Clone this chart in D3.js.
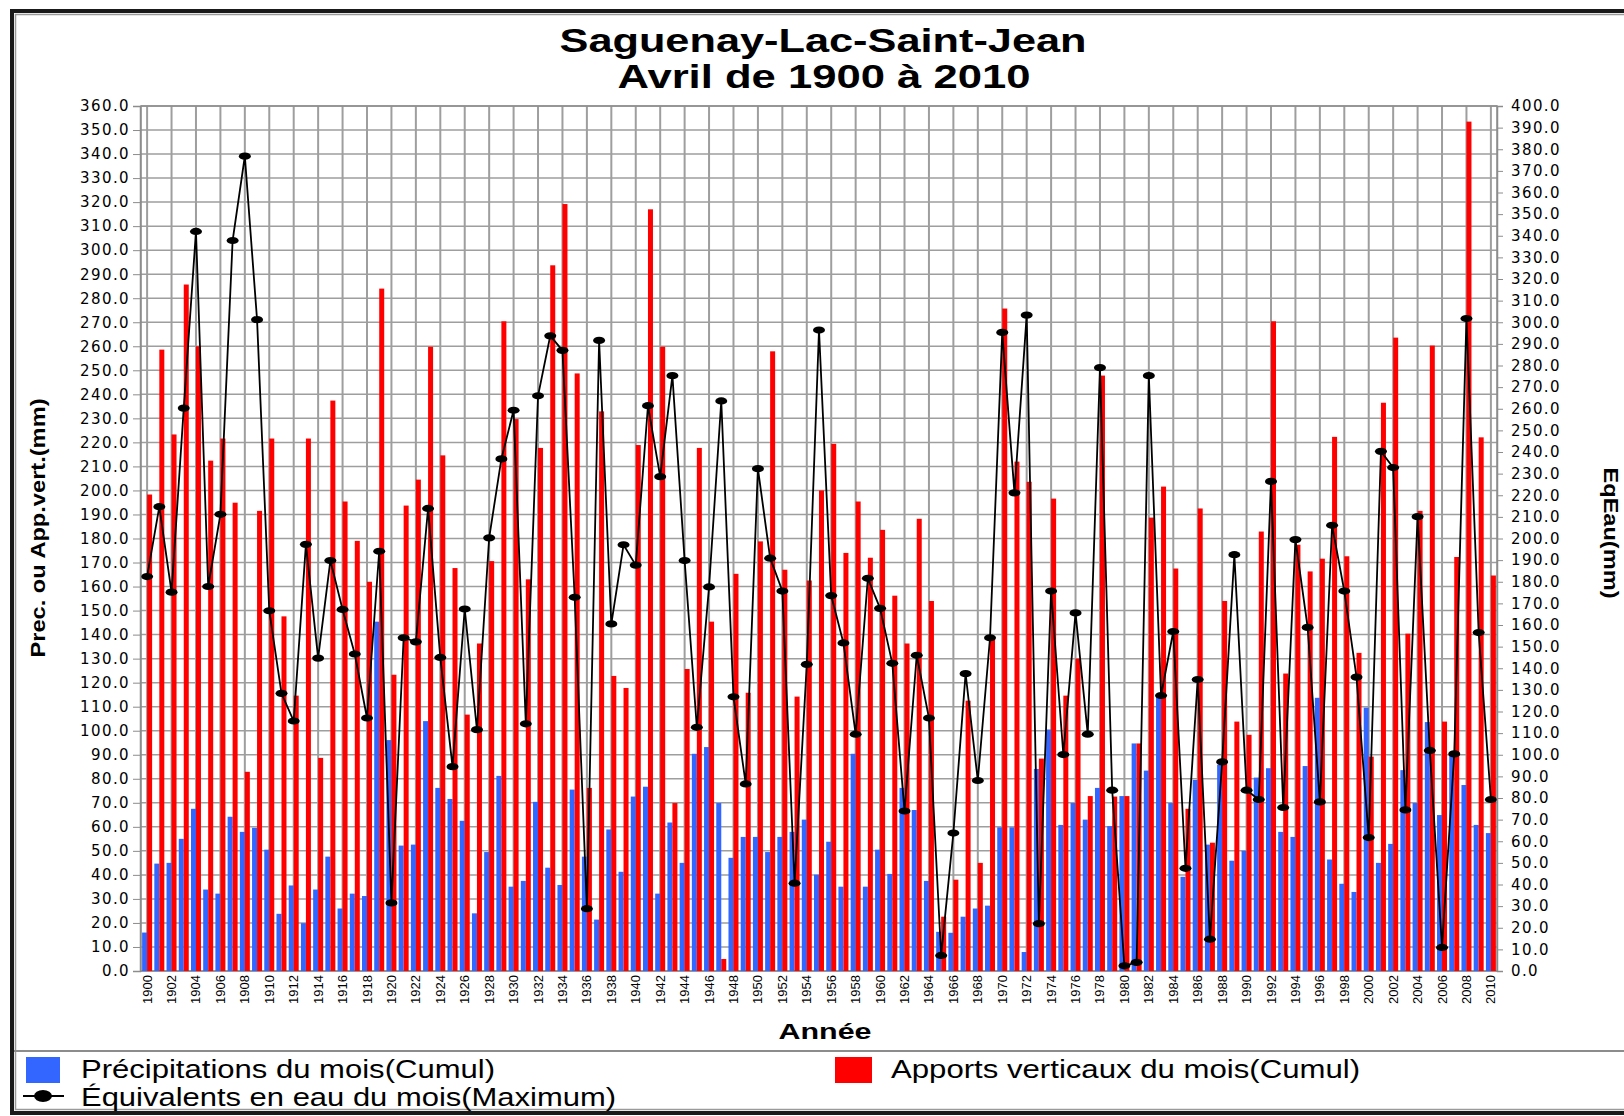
<!DOCTYPE html>
<html>
<head>
<meta charset="utf-8">
<script src="https://cdn.jsdelivr.net/npm/d3@7"></script>
<style>
  body { margin: 0; background: #fff; }
  svg { display: block; }
</style>
</head>
<body>
<svg id="chart" width="1624" height="1116"></svg>
<script>
// years 1900..2010
const years = d3.range(1900, 2011);

// Précipitations du mois (Cumul) - left axis
const precip = [
  16, 44.7, 45, 55, 67.5, 33.9, 32.2, 64.2, 57.9, 59.6,
  50.5, 23.8, 35.6, 19.9, 33.9, 47.6, 26, 32.2, 31.2, 145.4,
  96.1, 52.2, 52.6, 104, 76.2, 71.6, 62.5, 24, 49.5, 81.2,
  35.1, 37.5, 70.4, 43, 35.8, 75.5, 47.6, 21.4, 58.9, 41.3,
  72.6, 76.7, 32.2, 61.8, 45, 90.4, 93.2, 69.9, 47.1, 55.8,
  55.8, 49.5, 55.8, 57.9, 63, 40.1, 53.8, 35.1, 90.4, 35.1,
  50.5, 40.4, 76.2, 67, 37.5, 16.3, 15.9, 22.6, 26, 27.2,
  59.8, 59.8, 7.9, 84.1, 100.5, 60.8, 69.9, 63, 76.2, 60.3,
  72.8, 94.7, 83.4, 114.6, 69.9, 39.2, 79.5, 52.6, 85.8, 45.9,
  50, 80.5, 84.4, 57.9, 55.8, 85.3, 113.7, 46.4, 36.3, 32.9,
  109.6, 45, 52.9, 83.6, 69.9, 103.6, 64.9, 90.1, 77.4, 60.8,
  57.4
];

// Apports verticaux du mois (Cumul) - left axis
const apports = [
  198.3, 258.6, 223.3, 285.7, 260, 212.4, 221.6, 194.9, 82.9, 191.5,
  221.6, 147.6, 114.6, 221.6, 88.7, 237.4, 195.4, 179, 162, 284,
  123.3, 193.7, 204.5, 259.8, 214.6, 167.7, 106.7, 136.3, 170.6, 270.4,
  229.7, 163, 217.7, 293.7, 319.2, 248.7, 76.2, 232.9, 122.8, 117.8,
  218.9, 317, 259.8, 69.9, 125.7, 217.7, 145.4, 5, 165.3, 115.8,
  178.8, 257.9, 167, 114.2, 162.5, 200, 219.4, 174, 195.4, 172,
  183.6, 156.2, 136.3, 188.2, 154, 22.6, 38, 112.5, 45, 138,
  275.7, 212, 203.6, 88.4, 196.6, 114.6, 130, 72.8, 247.8, 72.6,
  72.8, 94.7, 188.7, 201.6, 167.5, 67.5, 192.5, 53.4, 154, 103.8,
  98.3, 182.9, 270.4, 123.8, 177.4, 166.3, 171.6, 222.3, 172.6, 132.4,
  89.2, 236.5, 263.6, 140.4, 191.5, 260.3, 103.8, 172.3, 353.5, 222.1,
  164.6
];

// Équivalents en eau du mois (Maximum) - right axis
const eqEau = [
  182.4, 214.7, 175.2, 260.3, 342, 177.8, 211.2, 337.8, 376.8, 301.2,
  166.6, 128.4, 115.6, 197.3, 144.7, 189.8, 167.2, 146.6, 117, 194.1,
  31.5, 154.1, 152.2, 213.9, 145, 94.5, 167.4, 111.6, 200.3, 236.8,
  259.3, 114.3, 266, 293.7, 287, 172.8, 28.8, 291.6, 160.5, 197.1,
  187.7, 261.4, 228.6, 275.3, 189.8, 112.7, 177.6, 263.6, 126.8, 86.5,
  232.3, 190.9, 175.7, 40.6, 141.8, 296.4, 173.6, 151.7, 109.5, 181.6,
  167.7, 142.3, 74, 146, 117, 7.2, 63.8, 137.5, 88.1, 154.1,
  295.3, 221.1, 303.3, 21.9, 175.7, 100.1, 165.6, 109.5, 279, 83.6,
  2.4, 4, 275.3, 127.4, 157, 47.5, 134.8, 14.7, 96.7, 192.5,
  83.6, 79.3, 226.4, 75.6, 199.5, 158.9, 78.2, 206.1, 175.7, 135.9,
  61.7, 240.3, 232.8, 74.5, 210.1, 102, 10.9, 100.4, 301.7, 156.5,
  79.3
];

const leftTicks = d3.range(0, 361, 10);
const rightTicks = d3.range(0, 401, 10);
const yearTicks = years.filter(y => y % 2 === 0);

const svg = d3.select('#chart');

const plot = {left: 141, right: 1497, top: 106, bottom: 971};

const x = d3.scaleBand()
  .domain(years)
  .range([plot.left, plot.right])
  .padding(0);
const yL = d3.scaleLinear().domain([0, 360]).range([plot.bottom, plot.top]);
const yR = d3.scaleLinear().domain([0, 400]).range([plot.bottom, plot.top]);
const cx = (d) => x(d) + x.bandwidth() / 2;
const barW = 5;

svg.append('rect')
  .attr('width', 1624).attr('height', 1116)
  .attr('fill', '#fff');

// frame
svg.append('rect')
  .attr('x', 12).attr('y', 11)
  .attr('width', 1640).attr('height', 1102)
  .attr('fill', 'none')
  .attr('stroke', '#1a1a1a')
  .attr('stroke-width', 4);
svg.append('rect')
  .attr('x', 15.5).attr('y', 14.5)
  .attr('width', 1640).attr('height', 1095)
  .attr('fill', 'none')
  .attr('stroke', '#9a9a9a')
  .attr('stroke-width', 1.5);

// horizontal grid
svg.append('g')
  .selectAll('line')
  .data(leftTicks)
  .join('line')
  .attr('x1', plot.left).attr('x2', plot.right)
  .attr('y1', d => yL(d)).attr('y2', d => yL(d))
  .attr('stroke', '#9e9e9e')
  .attr('stroke-width', 1.5);

// vertical grid every 2 years
svg.append('g')
  .selectAll('line')
  .data(yearTicks)
  .join('line')
  .attr('x1', d => cx(d)).attr('x2', d => cx(d))
  .attr('y1', plot.top).attr('y2', plot.bottom)
  .attr('stroke', '#9e9e9e')
  .attr('stroke-width', 2);

// plot border
svg.append('rect')
  .attr('x', plot.left).attr('y', plot.top)
  .attr('width', plot.right - plot.left).attr('height', plot.bottom - plot.top)
  .attr('fill', 'none')
  .attr('stroke', '#8c8c8c')
  .attr('stroke-width', 1.5);

// bars
svg.append('g')
  .selectAll('rect')
  .data(years)
  .join('rect')
  .attr('x', d => cx(d) - barW)
  .attr('y', (d, i) => yL(precip[i]))
  .attr('width', barW)
  .attr('height', (d, i) => plot.bottom - yL(precip[i]))
  .attr('fill', '#3366ff');

svg.append('g')
  .selectAll('rect')
  .data(years)
  .join('rect')
  .attr('x', d => cx(d))
  .attr('y', (d, i) => yL(apports[i]))
  .attr('width', barW)
  .attr('height', (d, i) => plot.bottom - yL(apports[i]))
  .attr('fill', '#ff0000');

// line + markers on right axis
const lineEq = d3.line()
  .x((d, i) => cx(years[i]))
  .y(d => yR(d));

svg.append('path')
  .datum(eqEau)
  .attr('d', lineEq)
  .attr('fill', 'none')
  .attr('stroke', '#000')
  .attr('stroke-width', 1.8);

svg.append('g')
  .selectAll('ellipse')
  .data(eqEau)
  .join('ellipse')
  .attr('cx', (d, i) => cx(years[i]))
  .attr('cy', d => yR(d))
  .attr('rx', 6)
  .attr('ry', 3.6)
  .attr('fill', '#000');

// left axis
const axL = svg.append('g')
  .attr('transform', `translate(${plot.left - 1},0)`)
  .call(d3.axisLeft(yL).tickValues(leftTicks).tickFormat(d3.format('.1f')).tickSize(7).tickPadding(3));
axL.select('.domain').attr('stroke', '#8c8c8c').attr('stroke-width', 1.5);
axL.selectAll('.tick line').attr('stroke', '#8c8c8c');
axL.selectAll('text')
  .attr('font-family', 'DejaVu Sans')
  .attr('font-size', 15)
  .attr('letter-spacing', 1.4)
  .attr('fill', '#000');

// right axis
const axR = svg.append('g')
  .attr('transform', `translate(${plot.right},0)`)
  .call(d3.axisRight(yR).tickValues(rightTicks).tickFormat(d3.format('.1f')).tickSize(6).tickPadding(8));
axR.select('.domain').attr('stroke', '#8c8c8c').attr('stroke-width', 1.5);
axR.selectAll('.tick line').attr('stroke', '#8c8c8c');
axR.selectAll('text')
  .attr('font-family', 'DejaVu Sans')
  .attr('font-size', 15)
  .attr('letter-spacing', 1.4)
  .attr('fill', '#000');

// x axis (even years, rotated)
const axX = svg.append('g')
  .attr('transform', `translate(0,${plot.bottom})`)
  .call(d3.axisBottom(x).tickValues(yearTicks).tickSize(0).tickPadding(0));
axX.select('.domain').remove();
axX.selectAll('text')
  .attr('font-family', 'Liberation Sans, Arial, sans-serif')
  .attr('font-size', 13)
  .attr('fill', '#000')
  .attr('text-anchor', 'end')
  .attr('dy', null)
  .attr('y', 0)
  .attr('transform', 'translate(4.5,4) rotate(-90)');

// titles
const title = svg.append('g')
  .attr('font-family', 'Liberation Sans, Arial, sans-serif')
  .attr('font-weight', 'bold')
  .attr('text-anchor', 'middle')
  .attr('fill', '#000');
title.append('text')
  .attr('x', 823).attr('y', 52)
  .attr('font-size', 33)
  .attr('textLength', 527)
  .attr('lengthAdjust', 'spacingAndGlyphs')
  .text('Saguenay-Lac-Saint-Jean');
title.append('text')
  .attr('x', 824).attr('y', 88)
  .attr('font-size', 33)
  .attr('textLength', 413)
  .attr('lengthAdjust', 'spacingAndGlyphs')
  .text('Avril de 1900 à 2010');

title.append('text')
  .attr('x', 825).attr('y', 1039)
  .attr('font-size', 22)
  .attr('textLength', 93)
  .attr('lengthAdjust', 'spacingAndGlyphs')
  .text('Année');

title.append('text')
  .attr('transform', 'translate(45,528) rotate(-90)')
  .attr('font-size', 21)
  .attr('textLength', 259)
  .attr('lengthAdjust', 'spacingAndGlyphs')
  .text('Prec. ou App.vert.(mm)');

title.append('text')
  .attr('transform', 'translate(1604,533) rotate(90)')
  .attr('font-size', 21)
  .attr('textLength', 131)
  .attr('lengthAdjust', 'spacingAndGlyphs')
  .text('EqEau(mm)');

// legend
svg.append('line')
  .attr('x1', 14).attr('x2', 1624)
  .attr('y1', 1051).attr('y2', 1051)
  .attr('stroke', '#8c8c8c')
  .attr('stroke-width', 2);

const legend = svg.append('g')
  .attr('font-family', 'Liberation Sans, Arial, sans-serif')
  .attr('font-size', 25)
  .attr('fill', '#000');

legend.append('rect')
  .attr('x', 26).attr('y', 1057).attr('width', 34).attr('height', 26)
  .attr('fill', '#3366ff');
legend.append('text')
  .attr('x', 81).attr('y', 1078)
  .attr('textLength', 414)
  .attr('lengthAdjust', 'spacingAndGlyphs')
  .text('Précipitations du mois(Cumul)');

legend.append('rect')
  .attr('x', 835).attr('y', 1057).attr('width', 37).attr('height', 26)
  .attr('fill', '#ff0000');
legend.append('text')
  .attr('x', 891).attr('y', 1078)
  .attr('textLength', 469)
  .attr('lengthAdjust', 'spacingAndGlyphs')
  .text('Apports verticaux du mois(Cumul)');

legend.append('line')
  .attr('x1', 23).attr('x2', 64)
  .attr('y1', 1096).attr('y2', 1096)
  .attr('stroke', '#000')
  .attr('stroke-width', 2);
legend.append('ellipse')
  .attr('cx', 43).attr('cy', 1096)
  .attr('rx', 9).attr('ry', 6)
  .attr('fill', '#000');
legend.append('text')
  .attr('x', 81).attr('y', 1106)
  .attr('textLength', 535)
  .attr('lengthAdjust', 'spacingAndGlyphs')
  .text('Équivalents en eau du mois(Maximum)');
</script>
</body>
</html>
